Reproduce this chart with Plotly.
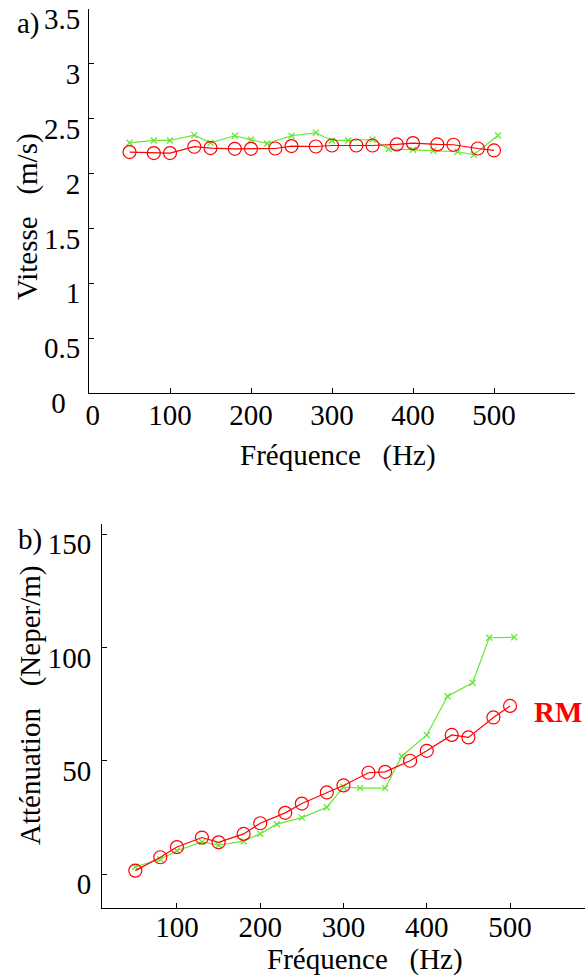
import plotly.graph_objects as go

# ---- data ----
freq_rm = [50, 80, 100, 130, 150, 180, 200, 230, 250, 280, 300, 330, 350, 380, 400, 430, 450, 480, 500]
freq_g = [50, 80, 100, 130, 150, 180, 200, 220, 250, 280, 300, 320, 350, 370, 400, 425, 455, 475, 505]

vit_rm = [2.196, 2.187, 2.187, 2.245, 2.233, 2.226, 2.226, 2.229, 2.251, 2.247,
          2.256, 2.256, 2.256, 2.266, 2.278, 2.266, 2.263, 2.229, 2.211]
vit_g = [2.281, 2.302, 2.302, 2.351, 2.281, 2.345, 2.308, 2.275, 2.345, 2.372,
         2.302, 2.302, 2.311, 2.224, 2.217, 2.208, 2.199, 2.172, 2.348]

att_rm = [1.5, 7.4, 11.9, 16.1, 14.0, 17.7, 22.4, 27.0, 31.1, 36.0,
          39.1, 44.7, 45.1, 50.0, 54.4, 61.4, 60.3, 69.1, 74.2]
att_g = [3.2, 6.5, 10.3, 14.2, 12.7, 14.5, 17.8, 22.0, 24.9, 29.5,
         38.4, 37.9, 37.9, 52.0, 61.4, 78.5, 84.4, 104.3, 104.5]

NB = "\u00a0"
xt_top = [0, 100, 200, 300, 400, 500, 600]
xt_top_text = [NB + "0", "100", "200", "300", "400", "500", ""]
yt_top = [0, 0.5, 1, 1.5, 2, 2.5, 3, 3.5]
yt_top_text = ["0" + NB + NB, "0.5", "1", "1.5", "2", "2.5", "3", "3.5"]
xt_bot = [100, 200, 300, 400, 500]
yt_bot = [0, 50, 100, 150]

RED = "#ff0000"
GREEN = "#66e633"
FONT = "Liberation Serif, Times New Roman, serif"
FS = 29
W, H = 585, 976

fig = go.Figure()

def add_pair(xa, ya, fr, vr, fg, vg):
    fig.add_trace(go.Scatter(x=fg, y=vg, mode="lines+markers", xaxis=xa, yaxis=ya,
                             line=dict(color=GREEN, width=1.2),
                             marker=dict(symbol="x-thin-open", size=6, line=dict(color=GREEN, width=1.3)),
                             showlegend=False, cliponaxis=False))
    fig.add_trace(go.Scatter(x=fr, y=vr, mode="lines+markers", xaxis=xa, yaxis=ya,
                             line=dict(color=RED, width=1.2),
                             marker=dict(symbol="circle-open", size=13, line=dict(color=RED, width=1.2)),
                             showlegend=False, cliponaxis=False))

add_pair("x", "y", freq_rm, vit_rm, freq_g, vit_g)
add_pair("x2", "y2", freq_rm, att_rm, freq_g, att_g)

axis_common = dict(showline=True, linecolor="black", linewidth=1, showgrid=False, zeroline=False,
                   ticks="inside", ticklen=5, tickcolor="black", tickwidth=1, automargin=False,
                   tickfont=dict(family=FONT, size=FS, color="black"), mirror=False)

def px_x(p):
    return p / W

def px_y(p):
    return 1 - p / H

fig.update_layout(
    template="none",
    width=W, height=H,
    margin=dict(l=0, r=0, t=0, b=0, pad=0),
    paper_bgcolor="white", plot_bgcolor="white",
    xaxis=dict(domain=[px_x(89), px_x(575)], range=[0, 600], tickvals=xt_top, ticktext=xt_top_text,
               anchor="y", ticklabelstandoff=-4, **axis_common),
    yaxis=dict(domain=[px_y(393), px_y(9)], range=[0, 3.5005], tickvals=yt_top, ticktext=yt_top_text,
               anchor="x", ticklabelstandoff=2, ticklabelshift=10, **axis_common),
    xaxis2=dict(domain=[px_x(102), 1.0], range=[10, 590], tickvals=xt_bot,
                anchor="y2", ticklabelstandoff=-7, **axis_common),
    yaxis2=dict(domain=[px_y(908), px_y(524)], range=[-15, 154.5], tickvals=yt_bot,
                anchor="x2", ticklabelstandoff=4, ticklabelshift=10, **axis_common),
)

tf = dict(family=FONT, size=FS, color="black")
annots = [
    dict(text="a)", x=px_x(28), y=px_y(23), textangle=0),
    dict(text="b)", x=px_x(30), y=px_y(539), textangle=0),
    dict(text="Vitesse" + NB * 3 + "(m/s)", x=px_x(27), y=px_y(217), textangle=-90),
    dict(text="Fréquence" + NB * 3 + "(Hz)", x=px_x(338), y=px_y(455), textangle=0),
    dict(text="Atténuation" + NB * 3 + "(Neper/m)", x=px_x(30), y=px_y(706), textangle=-90),
    dict(text="Fréquence" + NB * 3 + "(Hz)", x=px_x(365), y=px_y(959), textangle=0),
]
for a in annots:
    fig.add_annotation(xref="paper", yref="paper", showarrow=False, xanchor="center", yanchor="middle",
                       font=tf, **a)

fig.add_annotation(xref="paper", yref="paper", x=px_x(584), y=px_y(712), text="<b>RM</b>",
                   showarrow=False, xanchor="right", yanchor="middle",
                   font=dict(family=FONT, size=29, color=RED))

fig.write_html("out.html",
               config={"displayModeBar": False},
               post_script="document.body.style.margin='0';document.body.style.padding='0';"
                           "document.body.style.overflow='hidden';")
